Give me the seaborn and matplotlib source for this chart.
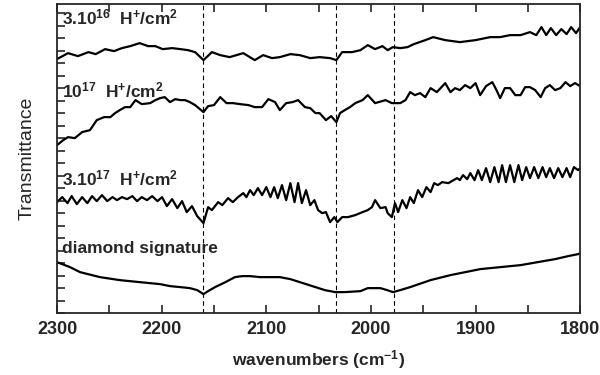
import numpy as np
import pandas as pd
import matplotlib
matplotlib.use("Agg")
import matplotlib.pyplot as plt
from matplotlib.ticker import MultipleLocator
import seaborn as sns

# Espectros (numero de onda en cm-1, transmitancia en u.a. desplazada)
w_16 = [2300, 2289.5, 2280, 2270, 2263, 2254, 2245.5, 2238, 2230, 2221, 2213, 2206, 2199, 2190, 2182,
        2175, 2168, 2160, 2152, 2144, 2135, 2122, 2111, 2103, 2094.5, 2087, 2077, 2068, 2058, 2049,
        2039, 2033, 2027.5, 2018, 2010, 2003, 1996, 1989, 1984, 1979, 1972, 1965, 1959, 1948, 1940.5,
        1929, 1915, 1900, 1886, 1876.5, 1867, 1857, 1848, 1842, 1837, 1832.5, 1828, 1823, 1818, 1813,
        1808.6, 1804, 1800]
t_16 = [2.54, 2.60, 2.57, 2.61, 2.59, 2.64, 2.62, 2.65, 2.67, 2.70, 2.67, 2.67, 2.64, 2.65, 2.64,
        2.63, 2.61, 2.53, 2.61, 2.58, 2.56, 2.60, 2.53, 2.58, 2.55, 2.56, 2.59, 2.58, 2.55, 2.56,
        2.55, 2.53, 2.61, 2.61, 2.63, 2.68, 2.64, 2.67, 2.63, 2.66, 2.65, 2.66, 2.69, 2.73, 2.76,
        2.73, 2.71, 2.73, 2.76, 2.76, 2.78, 2.78, 2.81, 2.78, 2.86, 2.78, 2.85, 2.78, 2.84, 2.79,
        2.86, 2.80, 2.86]

w_1e17 = [2300, 2294, 2289.5, 2283, 2276, 2268.5, 2262, 2255, 2249, 2244.5, 2240, 2235, 2230, 2225,
          2219, 2211, 2206, 2201.5, 2197, 2192, 2187, 2182, 2177.6, 2173, 2168, 2160, 2155.6, 2150,
          2144, 2138, 2132, 2125, 2117, 2111, 2104, 2098, 2091.6, 2087, 2081, 2075, 2069.6, 2063,
          2058, 2053, 2049, 2043, 2038, 2033, 2029.5, 2025, 2020, 2015, 2008, 2003, 1996, 1986, 1980,
          1972, 1967, 1962.5, 1958, 1953, 1948, 1943, 1937, 1929, 1924, 1919.5, 1915, 1910, 1905,
          1900, 1895.6, 1890, 1884, 1880, 1876.5, 1872, 1867, 1862, 1857, 1852.6, 1848, 1843, 1837.8,
          1833.5, 1829, 1824, 1819, 1814, 1809.6, 1805, 1800]
t_1e17 = [1.68, 1.73, 1.76, 1.75, 1.81, 1.83, 1.93, 1.96, 1.96, 2.00, 2.03, 2.06, 2.06, 2.13,
          2.09, 2.10, 2.13, 2.15, 2.16, 2.11, 2.14, 2.13, 2.13, 2.11, 2.08, 2.01, 2.07, 2.08,
          2.16, 2.10, 2.10, 2.09, 2.08, 2.06, 2.06, 2.14, 2.11, 2.03, 2.10, 2.11, 2.13, 2.06,
          2.05, 2.00, 2.00, 1.93, 1.97, 1.91, 2.00, 2.03, 2.06, 2.10, 2.13, 2.18, 2.10, 2.13, 2.10,
          2.10, 2.13, 2.21, 2.18, 2.20, 2.16, 2.25, 2.21, 2.30, 2.21, 2.25, 2.23, 2.28, 2.25,
          2.30, 2.18, 2.27, 2.31, 2.23, 2.15, 2.25, 2.25, 2.18, 2.18, 2.26, 2.26, 2.23, 2.16,
          2.25, 2.28, 2.23, 2.25, 2.31, 2.27, 2.30, 2.27]

w_3e17 = [2300, 2295, 2290, 2286, 2281, 2276, 2271, 2266.5, 2262, 2257, 2252, 2247, 2242.6, 2238,
          2233, 2228, 2223.5, 2219, 2214, 2209, 2204, 2199.6, 2195, 2190, 2185, 2180.5, 2176, 2171,
          2166, 2160, 2155.6, 2152, 2146, 2142, 2136.5, 2132, 2127, 2122, 2119, 2115.5, 2112, 2108,
          2104, 2100, 2096, 2092.5, 2089, 2085, 2081, 2077, 2073, 2069.6, 2066, 2062, 2058, 2054,
          2050.5, 2046.7, 2043, 2039, 2035, 2032, 2027.5, 2022, 2015, 2008, 2003, 1999, 1996, 1991,
          1986, 1984, 1980, 1977, 1974, 1970, 1966, 1962.5, 1959, 1955, 1951, 1947, 1943, 1939.6,
          1936, 1932, 1926, 1921, 1917.6, 1915, 1912, 1908, 1905, 1901, 1897.5, 1894, 1890, 1886,
          1882, 1878, 1874.6, 1871, 1867, 1863, 1859, 1855.5, 1851.6, 1848, 1844, 1840, 1836,
          1832.5, 1829, 1825, 1821, 1817, 1813, 1809.6, 1806, 1802, 1800]
t_3e17 = [1.11, 1.16, 1.10, 1.17, 1.09, 1.16, 1.10, 1.17, 1.12, 1.18, 1.12, 1.16, 1.13, 1.16,
          1.14, 1.17, 1.12, 1.16, 1.13, 1.17, 1.12, 1.16, 1.07, 1.14, 1.05, 1.12, 1.01, 1.07,
          0.97, 0.90, 1.06, 1.03, 1.11, 1.08, 1.15, 1.11, 1.16, 1.20, 1.16, 1.23, 1.18, 1.25,
          1.18, 1.26, 1.16, 1.26, 1.15, 1.28, 1.13, 1.30, 1.11, 1.30, 1.10, 1.23, 1.08, 1.13,
          1.03, 1.00, 1.01, 0.91, 0.96, 0.91, 0.96, 0.96, 0.98, 1.01, 1.03, 1.06, 1.13, 1.05,
          1.06, 1.00, 0.96, 1.10, 1.01, 1.13, 1.05, 1.16, 1.10, 1.23, 1.16, 1.26, 1.21, 1.30,
          1.28, 1.31, 1.30, 1.33, 1.35, 1.33, 1.38, 1.34, 1.40, 1.33, 1.43, 1.33, 1.45, 1.31,
          1.46, 1.31, 1.48, 1.31, 1.48, 1.31, 1.48, 1.33, 1.46, 1.35, 1.46, 1.35, 1.46,
          1.36, 1.45, 1.35, 1.45, 1.36, 1.45, 1.36, 1.46, 1.43, 1.45]

w_diam = [2300, 2287.6, 2278, 2259, 2240, 2221, 2201.5, 2192, 2182, 2173, 2166, 2160, 2155.6, 2149,
          2139, 2130, 2123, 2115.5, 2106, 2096, 2087, 2077, 2068, 2053, 2044, 2034, 2025, 2010, 2003,
          1991, 1984.5, 1979, 1972, 1962.5, 1943, 1924, 1895.6, 1857, 1824, 1811.5, 1802, 1800]
t_diam = [0.51, 0.46, 0.41, 0.36, 0.33, 0.31, 0.29, 0.27, 0.26, 0.25, 0.23, 0.19, 0.22, 0.26,
          0.31, 0.36, 0.37, 0.37, 0.36, 0.36, 0.36, 0.34, 0.31, 0.26, 0.23, 0.21, 0.21, 0.22, 0.25,
          0.25, 0.23, 0.21, 0.23, 0.26, 0.33, 0.38, 0.44, 0.48, 0.54, 0.57, 0.59, 0.60]

# lineas de referencia
lineas_v = [2160, 2033, 1978]

etiquetas = ['3.10$^{16}$ H$^{+}$/cm$^{2}$', '10$^{17}$ H$^{+}$/cm$^{2}$',
             '3.10$^{17}$ H$^{+}$/cm$^{2}$', 'diamond signature']
etiqueta_y = [2.96, 2.23, 1.35, 0.65]

sns.set_style('ticks')
plt.rcParams['font.family'] = ['Liberation Sans', 'DejaVu Sans']
plt.rcParams['mathtext.fontset'] = 'custom'
plt.rcParams['mathtext.rm'] = 'Liberation Sans:bold'
plt.rcParams['mathtext.it'] = 'Liberation Sans:bold'
plt.rcParams['mathtext.bf'] = 'Liberation Sans:bold'

fig = plt.figure(figsize=(6, 3.75), dpi=100)
ax = fig.add_axes([0.095, 0.165, 0.872, 0.824])

for w, t in [(w_16, t_16), (w_1e17, t_1e17), (w_3e17, t_3e17), (w_diam, t_diam)]:
    df = pd.DataFrame({'w': w, 't': t})
    sns.lineplot(data=df, x='w', y='t', sort=False, color='black', linewidth=1.6, ax=ax)

for x in lineas_v:
    ax.axvline(x, color='black', linestyle=(0, (4, 3)), linewidth=0.8)

for txt, y in zip(etiquetas, etiqueta_y):
    ax.text(2295, y, txt.replace('$ H', '$  H'), fontsize=12.5, fontweight='bold',
            va='center', ha='left')

ax.set_xlim(2300, 1800)
ax.set_ylim(0, 3.09)
ax.xaxis.set_major_locator(MultipleLocator(100))
ax.xaxis.set_minor_locator(MultipleLocator(50))
ax.yaxis.set_major_locator(MultipleLocator(0.125))
ax.set_yticklabels([])
ax.tick_params(axis='x', which='both', direction='in', top=True, labelsize=13, length=6, width=1.2, pad=6)
ax.tick_params(axis='y', which='both', direction='in', length=6, width=1.2)
for lab in ax.get_xticklabels():
    lab.set_fontweight('bold')
for s in ax.spines.values():
    s.set_linewidth(1.3)
    s.set_visible(True)

ax.set_xlabel('wavenumbers (cm$^{-1}$)', fontsize=12.5, fontweight='bold', labelpad=7)
ax.set_ylabel('Transmittance', fontsize=14, labelpad=12)

fig.savefig('out.png', dpi=100)
